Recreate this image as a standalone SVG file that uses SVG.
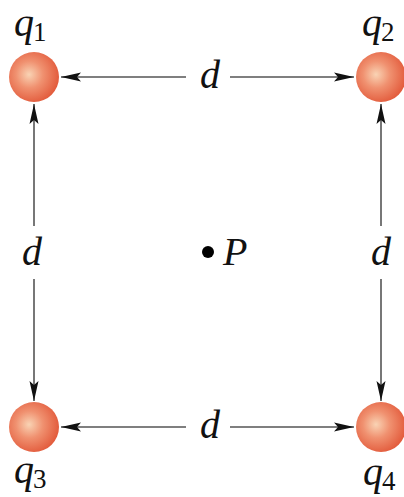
<svg xmlns="http://www.w3.org/2000/svg" width="404" height="497" viewBox="0 0 404 497">
<style>
.lbl{font-family:"Liberation Serif","Times New Roman",serif;font-style:italic;font-size:40px;fill:#111}
.sub{font-family:"Liberation Serif","Times New Roman",serif;font-style:normal;font-size:27px;fill:#111}
.ln{stroke:#555;stroke-width:1.6;fill:none}
.ball{fill:url(#g)}
</style>
<defs>
<radialGradient id="g" cx="0.42" cy="0.45" r="0.6" fx="0.4" fy="0.45">
<stop offset="0" stop-color="#f9d3b4"/>
<stop offset="0.45" stop-color="#f09170"/>
<stop offset="1" stop-color="#e2593a"/>
</radialGradient>
<marker id="ah" markerUnits="userSpaceOnUse" markerWidth="22" markerHeight="12" refX="20" refY="6" orient="auto-start-reverse">
<path d="M0,1.5 L20,6 L0,10.5 L4,6 Z" fill="#111"/>
</marker>
</defs>
<rect width="404" height="497" fill="#fff"/>
<g id="connectors">
<line class="ln" x1="186" y1="77" x2="61" y2="77" marker-end="url(#ah)"/>
<line class="ln" x1="230" y1="77" x2="354" y2="77" marker-end="url(#ah)"/>
<line class="ln" x1="186" y1="427" x2="61" y2="427" marker-end="url(#ah)"/>
<line class="ln" x1="230" y1="427" x2="354" y2="427" marker-end="url(#ah)"/>
<line class="ln" x1="34" y1="226" x2="34" y2="104" marker-end="url(#ah)"/>
<line class="ln" x1="34" y1="279" x2="34" y2="401" marker-end="url(#ah)"/>
<line class="ln" x1="381" y1="226" x2="381" y2="104" marker-end="url(#ah)"/>
<line class="ln" x1="381" y1="279" x2="381" y2="401" marker-end="url(#ah)"/>
<text class="lbl" x="200" y="88">d</text>
<text class="lbl" x="200" y="438">d</text>
<text class="lbl" x="22" y="265">d</text>
<text class="lbl" x="371" y="265">d</text>
</g>
<g id="q1"><circle class="ball" cx="34" cy="77" r="25"/><text class="lbl" x="14" y="36">q</text><text class="sub" x="33" y="41">1</text></g>
<g id="q2"><circle class="ball" cx="381" cy="77" r="25"/><text class="lbl" x="362" y="36">q</text><text class="sub" x="381" y="41">2</text></g>
<g id="q3"><circle class="ball" cx="34" cy="427" r="25"/><text class="lbl" x="14" y="483">q</text><text class="sub" x="33" y="488">3</text></g>
<g id="q4"><circle class="ball" cx="381" cy="427" r="25"/><text class="lbl" x="363" y="485">q</text><text class="sub" x="382" y="490">4</text></g>
<g id="P"><circle cx="208" cy="252" r="6" fill="#000"/><text class="lbl" x="223" y="265">P</text></g>
</svg>
